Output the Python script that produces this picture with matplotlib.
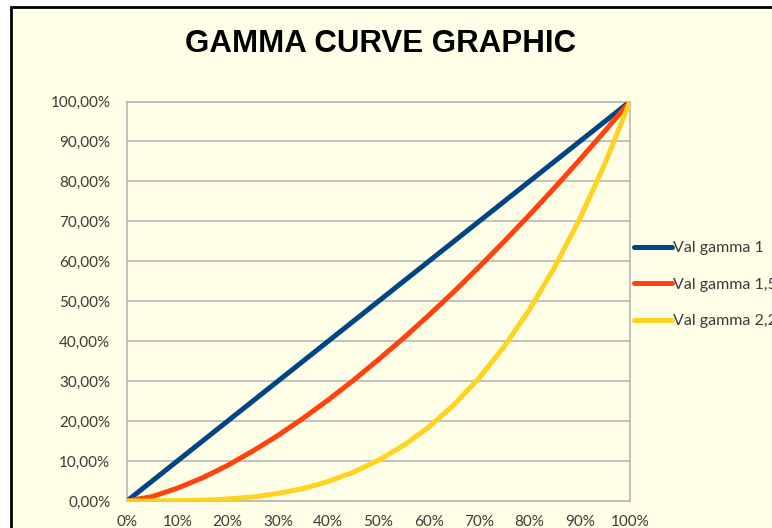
import matplotlib
matplotlib.use('Agg')
import matplotlib.pyplot as plt
import matplotlib.patches as patches

# values (fractions, x in steps of 5%)
x_vals = [0.00, 0.05, 0.10, 0.15, 0.20, 0.25, 0.30, 0.35, 0.40, 0.45, 0.50,
          0.55, 0.60, 0.65, 0.70, 0.75, 0.80, 0.85, 0.90, 0.95, 1.00]
gamma_1 = [0.00, 0.05, 0.10, 0.15, 0.20, 0.25, 0.30, 0.35, 0.40, 0.45, 0.50,
           0.55, 0.60, 0.65, 0.70, 0.75, 0.80, 0.85, 0.90, 0.95, 1.00]
gamma_15 = [0.000, 0.011, 0.032, 0.058, 0.089, 0.125, 0.164, 0.207, 0.253, 0.302, 0.354,
            0.408, 0.465, 0.524, 0.586, 0.650, 0.716, 0.784, 0.854, 0.926, 1.000]
gamma_22 = [0.000, 0.000, 0.001, 0.002, 0.005, 0.010, 0.019, 0.031, 0.049, 0.072, 0.102,
            0.139, 0.185, 0.241, 0.308, 0.387, 0.479, 0.585, 0.706, 0.844, 1.000]

series_labels = ['Val gamma 1', 'Val gamma 1,5', 'Val gamma 2,2']
x_ticks = [0.0, 0.1, 0.2, 0.3, 0.4, 0.5, 0.6, 0.7, 0.8, 0.9, 1.0]
x_tick_labels = ['0%', '10%', '20%', '30%', '40%', '50%', '60%', '70%', '80%', '90%', '100%']
y_ticks = [0.0, 0.1, 0.2, 0.3, 0.4, 0.5, 0.6, 0.7, 0.8, 0.9, 1.0]
y_tick_labels = ['0,00%', '10,00%', '20,00%', '30,00%', '40,00%', '50,00%',
                 '60,00%', '70,00%', '80,00%', '90,00%', '100,00%']

W, H = 772, 528
bg = '#FFFFE8'
grid_col = '#B8B8B8'
text_col = '#3A3A3A'
colors = ['#004586', '#FF420E', '#FFD320']

fig = plt.figure(figsize=(W / 100, H / 100), dpi=100, facecolor='white')

# chart area frame (black border, cut by the image edge on right/bottom)
frame = patches.Rectangle((11 / W, -0.05), 1.1, 1 - 7 / H + 0.05, transform=fig.transFigure,
                          facecolor=bg, edgecolor='black', linewidth=2, zorder=-5)
fig.patches.append(frame)

ax = fig.add_axes([127 / W, 27 / H, 503 / W, 399.5 / H])
ax.set_facecolor(bg)

for ys, c, lab in zip([gamma_1, gamma_15, gamma_22], colors, series_labels):
    ax.plot(x_vals, ys, color=c, linewidth=3.6, label=lab, solid_capstyle='round', zorder=3)

ax.set_xlim(0, 1)
ax.set_ylim(0, 1)
ax.set_xticks(x_ticks)
ax.set_xticklabels(x_tick_labels)
ax.set_yticks(y_ticks)
ax.set_yticklabels(y_tick_labels)
ax.yaxis.grid(True, color=grid_col, linewidth=1.2, zorder=1)
ax.set_axisbelow(True)
for s in ax.spines.values():
    s.set_color(grid_col)
    s.set_linewidth(1.2)
ax.tick_params(axis='both', length=0, labelsize=11, labelcolor=text_col)
ax.tick_params(axis='y', pad=12)
ax.tick_params(axis='x', pad=10)
for t in ax.get_xticklabels() + ax.get_yticklabels():
    t.set_fontfamily('Lato')

fig.text(381 / W, 1 - 44 / H, 'GAMMA CURVE GRAPHIC', ha='center', va='center',
         fontsize=22.5, fontweight='bold', family='Liberation Sans', color='black')

# legend sits at the right edge and is cut by it, as in the reference
fig.legend(loc='upper left', bbox_to_anchor=(634 / W, 1 - 241 / H), frameon=False,
           prop={'family': 'Lato', 'size': 11.5}, labelcolor=text_col,
           handlelength=2.35, handletextpad=0.12, labelspacing=1.4,
           borderpad=0, borderaxespad=0)

fig.savefig('out.png', dpi=100, facecolor='white')
